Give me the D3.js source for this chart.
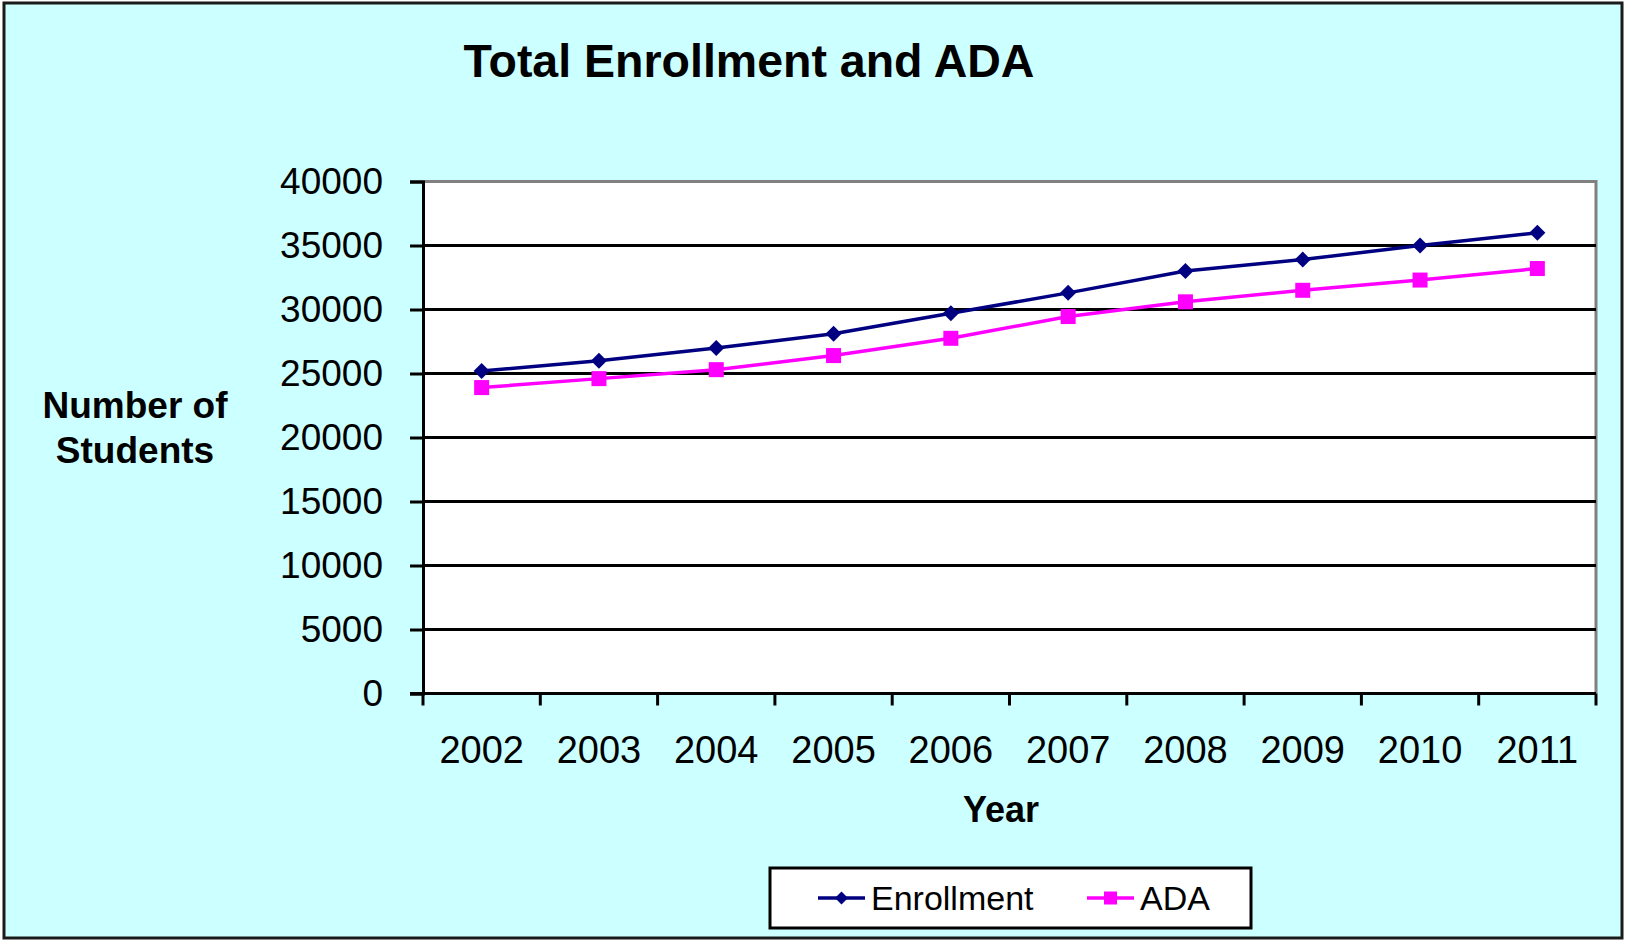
<!DOCTYPE html>
<html>
<head>
<meta charset="utf-8">
<script src="https://cdn.jsdelivr.net/npm/d3@7"></script>
<style>
  html, body { margin: 0; padding: 0; background: #ffffff; }
  svg { display: block; font-family: "Liberation Sans", Arial, sans-serif; }
</style>
</head>
<body>
<svg id="chart" width="1625" height="941"></svg>
<script>
// Data
const years = ["2002", "2003", "2004", "2005", "2006", "2007", "2008", "2009", "2010", "2011"];
const enrollment = [25200, 26000, 27000, 28100, 29700, 31300, 33000, 33900, 35000, 36000];
const ada = [23900, 24600, 25300, 26400, 27750, 29450, 30600, 31500, 32300, 33200];
const yTicks = [0, 5000, 10000, 15000, 20000, 25000, 30000, 35000, 40000];

const svg = d3.select("#chart");

// Frame
svg.append("rect")
  .attr("x", 4).attr("y", 3).attr("width", 1618).attr("height", 935)
  .attr("fill", "#ccffff").attr("stroke", "#1a1a1a").attr("stroke-width", 3);

const plot = { left: 423, right: 1596, top: 181.5, bottom: 693.5 };

const x = d3.scaleBand().domain(years).range([plot.left, plot.right]).padding(0);
const y = d3.scaleLinear().domain([0, 40000]).range([plot.bottom, plot.top]);

// Plot area
svg.append("rect")
  .attr("x", plot.left).attr("y", plot.top)
  .attr("width", plot.right - plot.left).attr("height", plot.bottom - plot.top)
  .attr("fill", "#ffffff");

// Gray top/right plot border
svg.append("path")
  .attr("d", `M${plot.left},${plot.top}H${plot.right}V${plot.bottom}`)
  .attr("fill", "none").attr("stroke", "#808080").attr("stroke-width", 3);

// Horizontal gridlines
svg.append("g").selectAll("line")
  .data(yTicks.filter(t => t > 0 && t < 40000))
  .join("line")
  .attr("x1", plot.left).attr("x2", plot.right)
  .attr("y1", d => y(d)).attr("y2", d => y(d))
  .attr("stroke", "#000").attr("stroke-width", 3);

// Y axis
const yAxis = d3.axisLeft(y).tickValues(yTicks).tickSize(13).tickPadding(27).tickFormat(d3.format("d"));
const gy = svg.append("g").attr("transform", `translate(${plot.left},0)`).call(yAxis);
gy.select(".domain").attr("stroke", "#000").attr("stroke-width", 3);
gy.selectAll(".tick line").attr("stroke", "#000").attr("stroke-width", 3);
gy.selectAll(".tick text")
  .attr("font-size", 37).attr("fill", "#000")
  .attr("font-family", "'Liberation Sans', Arial, sans-serif");

// X axis: ticks sit on band boundaries
const xBounds = years.map(d => x(d)).concat([plot.right]);
const gx = svg.append("g");
gx.append("line")
  .attr("x1", plot.left - 13).attr("x2", plot.right)
  .attr("y1", plot.bottom).attr("y2", plot.bottom)
  .attr("stroke", "#000").attr("stroke-width", 3);
gx.selectAll("line.tk").data(xBounds).join("line").attr("class", "tk")
  .attr("x1", d => d).attr("x2", d => d)
  .attr("y1", plot.bottom).attr("y2", plot.bottom + 12)
  .attr("stroke", "#000").attr("stroke-width", 3);
gx.selectAll("text").data(years).join("text")
  .attr("x", d => x(d) + x.bandwidth() / 2)
  .attr("y", 763)
  .attr("text-anchor", "middle")
  .attr("font-size", 38).attr("fill", "#000")
  .text(d => d);

// Series lines and markers
const cx = d => x(d) + x.bandwidth() / 2;
const line = d3.line().x(d => cx(d.year)).y(d => y(d.value));
const enrollPts = years.map((yr, i) => ({ year: yr, value: enrollment[i] }));
const adaPts = years.map((yr, i) => ({ year: yr, value: ada[i] }));

svg.append("path").datum(adaPts).attr("d", line)
  .attr("fill", "none").attr("stroke", "#ff00ff").attr("stroke-width", 3.5);
svg.append("path").datum(enrollPts).attr("d", line)
  .attr("fill", "none").attr("stroke", "#000080").attr("stroke-width", 3.5);

svg.append("g").selectAll("rect").data(adaPts).join("rect")
  .attr("x", d => cx(d.year) - 7.5).attr("y", d => y(d.value) - 7.5)
  .attr("width", 15).attr("height", 15)
  .attr("fill", "#ff00ff");

const diamond = s => `M0,${-s}L${s},0L0,${s}L${-s},0Z`;
svg.append("g").selectAll("path").data(enrollPts).join("path")
  .attr("transform", d => `translate(${cx(d.year)},${y(d.value)})`)
  .attr("d", diamond(8))
  .attr("fill", "#000080");

// Titles
svg.append("text")
  .attr("x", 749).attr("y", 77)
  .attr("text-anchor", "middle")
  .attr("font-size", 46.5).attr("font-weight", "bold").attr("fill", "#000")
  .text("Total Enrollment and ADA");

svg.append("text")
  .attr("x", 1001).attr("y", 822)
  .attr("text-anchor", "middle")
  .attr("font-size", 36).attr("font-weight", "bold").attr("fill", "#000")
  .text("Year");

const yTitle = svg.append("text")
  .attr("text-anchor", "middle")
  .attr("font-size", 37).attr("font-weight", "bold").attr("fill", "#000");
yTitle.append("tspan").attr("x", 135).attr("y", 418).text("Number of");
yTitle.append("tspan").attr("x", 135).attr("y", 463).text("Students");

// Legend
const legend = svg.append("g");
legend.append("rect")
  .attr("x", 770).attr("y", 868).attr("width", 481).attr("height", 60)
  .attr("fill", "#ffffff").attr("stroke", "#000").attr("stroke-width", 3);

const legendItems = [
  { name: "Enrollment", color: "#000080", shape: "diamond", x0: 818 },
  { name: "ADA", color: "#ff00ff", shape: "square", x0: 1087 }
];
legendItems.forEach(item => {
  const g = legend.append("g");
  g.append("line")
    .attr("x1", item.x0).attr("x2", item.x0 + 47)
    .attr("y1", 898).attr("y2", 898)
    .attr("stroke", item.color).attr("stroke-width", 3.5);
  if (item.shape === "diamond") {
    g.append("path")
      .attr("transform", `translate(${item.x0 + 23.5},898)`)
      .attr("d", diamond(6.5)).attr("fill", item.color);
  } else {
    g.append("rect")
      .attr("x", item.x0 + 23.5 - 6.5).attr("y", 898 - 6.5)
      .attr("width", 13).attr("height", 13).attr("fill", item.color);
  }
  g.append("text")
    .attr("x", item.x0 + 53).attr("y", 910)
    .attr("font-size", 34).attr("fill", "#000")
    .text(item.name);
});
</script>
</body>
</html>
